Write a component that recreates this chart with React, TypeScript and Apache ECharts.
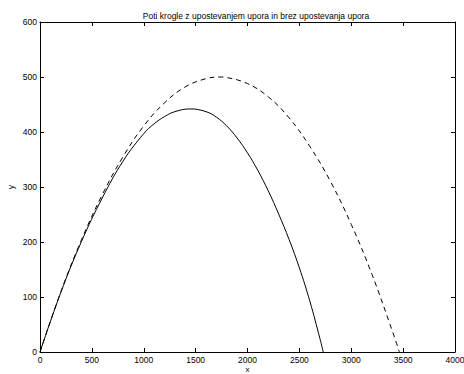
import React, { useEffect, useRef } from "react";
import * as echarts from "echarts";

const titleText = "Poti krogle z upostevanjem upora in brez upostevanja upora";
const xName = "x";
const yName = "y";

// Trajectory without drag (dashed)
const noDragX = [0, 200, 400, 600, 800, 1000, 1200, 1400, 1600, 1732, 1800, 2000, 2200, 2400, 2600, 2800, 3000, 3200, 3400, 3464];
const noDragY = [0, 109, 204, 286, 355, 411, 453, 482, 497, 500, 499, 488, 464, 426, 374, 310, 232, 141, 36, 0];

// Trajectory with drag (solid)
const dragX = [0, 200, 400, 600, 800, 1000, 1100, 1200, 1300, 1450, 1600, 1700, 1800, 1900, 2000, 2100, 2200, 2300, 2400, 2500, 2600, 2700, 2730];
const dragY = [0, 108, 201, 280, 347, 397, 415, 428, 437, 442, 437, 427, 411, 389, 362, 330, 293, 251, 205, 153, 93, 23, 0];

const xMin = 0, xMax = 4000, xStep = 500;
const yMin = 0, yMax = 600, yStep = 100;

export default function App() {
  const ref = useRef<HTMLDivElement>(null);
  useEffect(() => {
    if (!ref.current) return;
    const chart = echarts.init(ref.current, null, { renderer: "svg" });
    const font = "Liberation Sans";
    const axisCommon = {
      type: "value" as const,
      axisLine: { show: true, onZero: false, lineStyle: { color: "#000", width: 1 } },
      axisTick: { show: true, inside: true, length: 4, lineStyle: { color: "#000", width: 1 } },
      splitLine: { show: false },
    };
    const fmt = (v: number) => String(v);
    chart.setOption({
      animation: false,
      backgroundColor: "#fff",
      title: {
        text: titleText,
        left: 251,
        top: 6,
        textAlign: "center",
        textStyle: { fontFamily: font, fontSize: 8.5, fontWeight: "normal", color: "#000" },
      },
      grid: { left: 40, right: 9, top: 22, bottom: 22, containLabel: false, outerBoundsMode: "none" },
      xAxis: [
        {
          ...axisCommon,
          min: xMin, max: xMax, interval: xStep,
          position: "bottom",
          name: xName, nameLocation: "middle", nameGap: 17, nameMoveOverlap: false,
          nameTextStyle: { fontFamily: font, fontSize: 8, color: "#000", verticalAlign: "middle", lineHeight: 8 },
          axisLabel: { fontFamily: font, fontSize: 8.5, color: "#000", margin: 3, lineHeight: 9, formatter: fmt },
        },
        {
          ...axisCommon,
          min: xMin, max: xMax, interval: xStep,
          position: "top",
          axisLabel: { show: false },
        },
      ],
      yAxis: [
        {
          ...axisCommon,
          min: yMin, max: yMax, interval: yStep,
          position: "left",
          name: yName, nameLocation: "middle", nameGap: 25, nameMoveOverlap: false,
          nameTextStyle: { fontFamily: font, fontSize: 8.5, color: "#000" },
          axisLabel: { fontFamily: font, fontSize: 8.5, color: "#000", margin: 3, formatter: fmt },
        },
        {
          ...axisCommon,
          min: yMin, max: yMax, interval: yStep,
          position: "right",
          axisLabel: { show: false },
        },
      ],
      series: [
        {
          type: "line",
          data: noDragX.map((x, i) => [x, noDragY[i]]),
          showSymbol: false,
          smooth: 0.4,
          lineStyle: { color: "#000", width: 1, type: [5, 4] },
          xAxisIndex: 0, yAxisIndex: 0,
        },
        {
          type: "line",
          data: dragX.map((x, i) => [x, dragY[i]]),
          showSymbol: false,
          smooth: 0.4,
          lineStyle: { color: "#000", width: 1 },
          xAxisIndex: 0, yAxisIndex: 0,
        },
      ],
    });
    return () => chart.dispose();
  }, []);
  return (
    <div
      ref={ref}
      style={{ position: "absolute", left: 0, top: 0, width: 464, height: 374, background: "#fff" }}
    />
  );
}
